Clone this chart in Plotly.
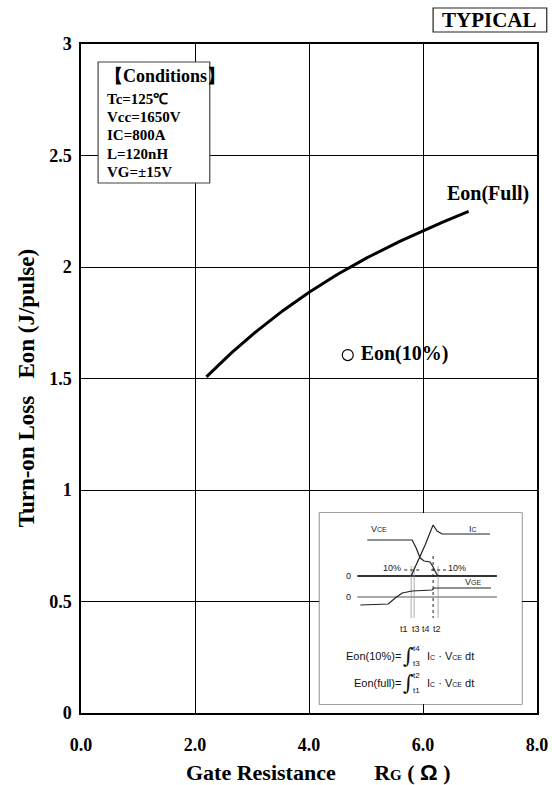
import numpy as np
import plotly.graph_objects as go

# ---- data ----
rg_full = [2.2, 3.0, 4.0, 4.75, 5.5, 6.0, 6.4, 6.8]
eon_full = [1.505, 1.70, 1.885, 2.00, 2.10, 2.17, 2.21, 2.245]
marker_10 = [(4.68, 1.605)]

x_ticks = [0, 2, 4, 6, 8]
x_tick_text = ["0.0", "2.0", "4.0", "6.0", "8.0"]
y_ticks = [0, 0.5, 1, 1.5, 2, 2.5, 3]
y_tick_text = ["0", "0.5", "1", "1.5", "2", "2.5", "3"]

conditions = ["Tc=125℃", "Vcc=1650V", "IC=800A", "L=120nH", "VG=±15V"]

# ---- inset waveform sketch (sketch units, y grows downward) ----
vce_x = [367, 412, 416, 420, 424, 430, 433, 437, 440]
vce_y = [540, 540, 548, 558, 561, 562, 567, 575, 576]
ic_x = [411, 418, 425, 433, 437, 442, 490]
ic_y = [576, 561, 545, 525, 531, 534, 534]
vge_x = [360, 388, 395, 402, 412, 432, 434, 491]
vge_y = [605, 604, 598, 593, 591, 590, 588, 588]

# page layout in 552-wide units, laid out on a 560-wide canvas
SX = 560 / 552
W, H = 560, 785
L, R, T, B = 81, 15, 44, 72
PW, PH = W - L - R, H - T - B


def px(x):
    return (x * SX - L) / PW


def py(y):
    return (H - B - y) / PH


SERIF = "Liberation Serif"
SANS = "Liberation Sans"

fig = go.Figure()

# smooth curve through the read points
xs = np.linspace(rg_full[0], rg_full[-1], 120)
coef = np.polyfit(rg_full, eon_full, 3)
fig.add_trace(go.Scatter(x=xs, y=np.polyval(coef, xs), mode="lines",
                         line=dict(color="black", width=3), hoverinfo="skip",
                         showlegend=False))

fig.add_trace(go.Scatter(x=[marker_10[0][0]], y=[marker_10[0][1]], mode="markers+text",
                         marker=dict(symbol="circle-open", size=11, color="black",
                                     line=dict(width=1.2)),
                         text=["Eon(10%)"], textposition="middle right",
                         textfont=dict(family=SERIF, size=20, color="black"),
                         texttemplate=" <b>%{text}</b>", showlegend=False))

fig.add_annotation(x=rg_full[-1] + 1.1, y=eon_full[-1] + 0.085, xref="x", yref="y",
                   text="<b>Eon(Full)</b>", showarrow=False, xanchor="right", yanchor="middle",
                   font=dict(family=SERIF, size=20, color="black"))

# ---- inset waveform traces ----
sk = dict(xaxis="x2", yaxis="y2", mode="lines", hoverinfo="skip", showlegend=False)
fig.add_trace(go.Scatter(x=[357, 497], y=[576, 576], line=dict(color="#333", width=2), **sk))
fig.add_trace(go.Scatter(x=[357, 497], y=[597, 597], line=dict(color="#555", width=1.2), **sk))
for xv in (411, 414, 438):
    fig.add_trace(go.Scatter(x=[xv, xv], y=[566, 618], line=dict(color="#999", width=0.8), **sk))
fig.add_trace(go.Scatter(x=[433, 433], y=[556, 618], line=dict(color="#222", width=1, dash="dot"), **sk))
fig.add_trace(go.Scatter(x=[404, 421], y=[570, 570], line=dict(color="#222", width=1, dash="dot"), **sk))
fig.add_trace(go.Scatter(x=[431, 446], y=[570, 570], line=dict(color="#222", width=1, dash="dot"), **sk))
fig.add_trace(go.Scatter(x=vce_x, y=vce_y, line=dict(color="#222", width=1.2), **sk))
fig.add_trace(go.Scatter(x=ic_x, y=ic_y, line=dict(color="#222", width=1.2), **sk))
fig.add_trace(go.Scatter(x=vge_x, y=vge_y, line=dict(color="#222", width=1.2), **sk))

small = "<span style='font-size:7px'>%s</span>"
inset_labels = [
    (379, 529, "V" + small % "CE"), (473, 529, "I" + small % "C"),
    (473, 582, "V" + small % "GE"), (348, 576, "0"), (348, 597, "0"),
    (392, 568, "10%"), (457, 568, "10%"),
    (404, 629, "t1"), (416, 629, "t3"), (426, 629, "t4"), (437, 629, "t2"),
]
for xv, yv, txt in inset_labels:
    fig.add_annotation(x=xv, y=yv, xref="x2", yref="y2", text=txt, showarrow=False,
                       xanchor="center", yanchor="middle",
                       font=dict(family=SANS, size=9, color="#222"))

for yv, lhs, up, lo in [(656, "Eon(10%)=", "t4", "t3"), (683, "Eon(full)=", "t2", "t1")]:
    fig.add_annotation(x=403, y=yv, xref="x2", yref="y2", text=lhs, showarrow=False,
                       xanchor="right", yanchor="middle",
                       font=dict(family=SANS, size=11, color="#111"))
    fig.add_annotation(x=408, y=yv, xref="x2", yref="y2", text="∫", showarrow=False,
                       xanchor="center", yanchor="middle",
                       font=dict(family="DejaVu Serif", size=21, color="#111"))
    fig.add_annotation(x=416, y=yv - 8, xref="x2", yref="y2", text=up, showarrow=False,
                       xanchor="center", yanchor="middle",
                       font=dict(family=SANS, size=8, color="#111"))
    fig.add_annotation(x=416, y=yv + 7, xref="x2", yref="y2", text=lo, showarrow=False,
                       xanchor="center", yanchor="middle",
                       font=dict(family=SANS, size=8, color="#111"))
    fig.add_annotation(x=425, y=yv, xref="x2", yref="y2",
                       text="I" + small % "C" + " · V" + small % "CE" + " dt",
                       showarrow=False, xanchor="left", yanchor="middle",
                       font=dict(family=SANS, size=11, color="#111"))

# ---- boxes ----
shapes = [
    dict(type="rect", xref="paper", yref="paper", x0=px(97), x1=px(209), y0=py(183), y1=py(62),
         line=dict(color="#444", width=1.2), fillcolor="white", layer="above"),
    dict(type="rect", xref="paper", yref="paper", x0=px(319), x1=px(522), y0=py(704), y1=py(513),
         line=dict(color="#444", width=1.2), fillcolor="white", layer="below"),
    dict(type="rect", xref="paper", yref="paper", x0=px(433), x1=px(547), y0=py(32), y1=py(8),
         line=dict(color="#222", width=1.2), fillcolor="white"),
]

ann = [
    dict(x=px(102), y=py(76), text="<b>【Conditions】</b>", xanchor="left",
         font=dict(family=SERIF, size=18, color="black")),
    dict(x=px(490), y=py(20), text="<b>TYPICAL</b>", xanchor="center",
         font=dict(family=SERIF, size=21, color="black")),
    dict(x=px(318), y=py(772),
         text="<b>Gate Resistance&nbsp;&nbsp;&nbsp;&nbsp;&nbsp;&nbsp;&nbsp;R<span style='font-size:15px'>G</span>"
              " ( <span style='font-family:Liberation Sans'>Ω</span> )</b>",
         xanchor="center", font=dict(family=SERIF, size=22, color="black")),
    dict(x=px(25), y=py(388), text="<b>Turn-on Loss&nbsp;&nbsp;&nbsp;Eon (J/pulse)</b>",
         textangle=-90, xanchor="center", font=dict(family=SERIF, size=23, color="black")),
]
for i, c in enumerate(conditions):
    ann.append(dict(x=px(104), y=py(98.5 + 18.4 * i), text="<b>%s</b>" % c, xanchor="left",
                    font=dict(family=SERIF, size=15, color="black")))
for a in ann:
    fig.add_annotation(xref="paper", yref="paper", showarrow=False, yanchor="middle", **a)

fig.update_layout(
    width=W, height=H, margin=dict(l=L, r=R, t=T, b=B),
    paper_bgcolor="white", plot_bgcolor="white", shapes=shapes,
    xaxis=dict(range=[0, 8], tickvals=x_ticks, ticktext=["<b>%s</b>" % t for t in x_tick_text],
               showgrid=True, gridcolor="black", gridwidth=1, zeroline=False,
               showline=True, linecolor="black", linewidth=1.5, mirror=True,
               ticks="", ticklabelstandoff=15,
               tickfont=dict(family=SERIF, size=18, color="black")),
    yaxis=dict(range=[0, 3], tickvals=y_ticks, ticktext=["<b>%s</b>" % t for t in y_tick_text],
               showgrid=True, gridcolor="black", gridwidth=1, zeroline=False,
               showline=True, linecolor="black", linewidth=1.5, mirror=True,
               ticks="", ticklabelstandoff=4,
               tickfont=dict(family=SERIF, size=18, color="black")),
    xaxis2=dict(domain=[px(319), px(522)], range=[319, 522], visible=False, anchor="y2"),
    yaxis2=dict(domain=[py(704), py(513)], range=[704, 513], visible=False, anchor="x2"),
)

fig.write_html("out.html")
